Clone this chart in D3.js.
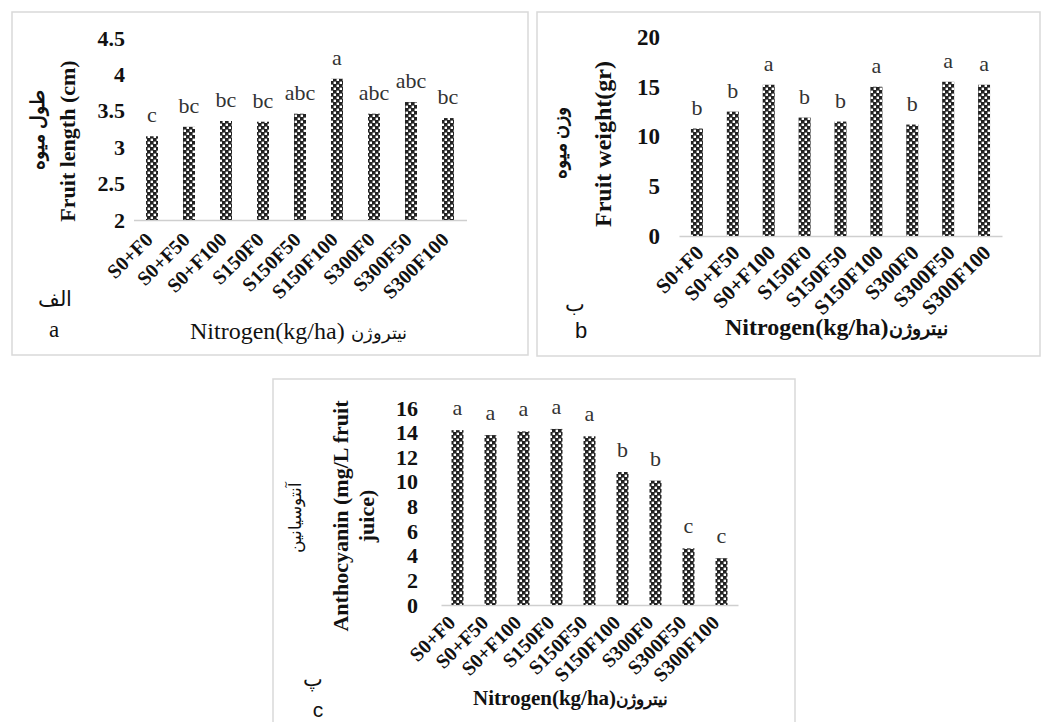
<!DOCTYPE html>
<html><head><meta charset="utf-8">
<script src="https://cdn.jsdelivr.net/npm/d3@7"></script>
<style>body{margin:0;background:#fff}</style>
</head><body><svg id="c" width="1043" height="722"></svg>
<script>
const categories = ["S0+F0","S0+F50","S0+F100","S150F0","S150F50","S150F100","S300F0","S300F50","S300F100"];
const lengthValues = [3.15,3.28,3.36,3.35,3.46,3.94,3.46,3.62,3.40];
const lengthLetters = ["c","bc","bc","bc","abc","a","abc","abc","bc"];
const lengthTicks = [2,2.5,3,3.5,4,4.5];
const weightValues = [10.8,12.5,15.2,11.9,11.5,15.0,11.2,15.5,15.2];
const weightLetters = ["b","b","a","b","b","a","b","a","a"];
const weightTicks = [0,5,10,15,20];
const anthoValues = [14.2,13.8,14.1,14.3,13.7,10.8,10.1,4.6,3.8];
const anthoLetters = ["a","a","a","a","a","b","b","c","c"];
const anthoTicks = [0,2,4,6,8,10,12,14,16];

const SERIF = "'Liberation Serif','Times New Roman','DejaVu Serif',serif";
const SANS = "'Liberation Sans',Arial,sans-serif";
const svg = d3.select("#c");

const defs = svg.append("defs");
const pat = defs.append("pattern").attr("id","chk").attr("patternUnits","userSpaceOnUse")
  .attr("width",6).attr("height",6);
pat.append("rect").attr("width",6).attr("height",6).attr("fill","#222");
pat.append("rect").attr("x",0.6).attr("y",0.6).attr("width",2.4).attr("height",2.4).attr("fill","#fff");
pat.append("rect").attr("x",3.6).attr("y",3.6).attr("width",2.4).attr("height",2.4).attr("fill","#fff");

function panel(cfg){
  const g = svg.append("g");
  g.append("rect").attr("x",cfg.frame[0]).attr("y",cfg.frame[1])
    .attr("width",cfg.frame[2]-cfg.frame[0]).attr("height",cfg.frame[3]-cfg.frame[1])
    .attr("fill","#fff").attr("stroke","#d9d9d9").attr("stroke-width",1.5);
  const x = d3.scaleBand().domain(categories).range(cfg.xr).padding(0);
  const y = d3.scaleLinear().domain(cfg.yd).range(cfg.yr);
  const ya = g.append("g").attr("transform",`translate(${cfg.tickX},0)`)
    .call(d3.axisLeft(y).tickValues(cfg.ticks).tickSize(0).tickPadding(0).tickFormat(d3.format("")));
  ya.select(".domain").remove();
  ya.selectAll("text").attr("font-family",SERIF).attr("font-size",cfg.tickFs)
    .attr("font-weight","bold").attr("fill","#111");
  const xa = g.append("g").attr("transform",`translate(0,${cfg.yr[0]})`)
    .call(d3.axisBottom(x).tickSize(0).tickFormat(""));
  xa.select(".domain").attr("stroke","#cfcfcf").attr("stroke-width",1.5);
  const bw = 12;
  g.selectAll("rect.bar").data(cfg.values).join("rect").attr("class","bar")
    .attr("x",(d,i)=>x(categories[i])+x.bandwidth()/2-bw/2)
    .attr("width",bw)
    .attr("y",d=>y(d)).attr("height",d=>y(cfg.yd[0])-y(d))
    .attr("fill","url(#chk)");
  g.selectAll("text.lt").data(cfg.letters).join("text").attr("class","lt")
    .attr("x",(d,i)=>x(categories[i])+x.bandwidth()/2)
    .attr("y",(d,i)=>y(cfg.values[i])-cfg.letterGap)
    .attr("text-anchor","middle").attr("font-family",SERIF).attr("font-size",cfg.letterFs)
    .attr("fill","#333").text(d=>d);
  g.selectAll("text.xl").data(categories).join("text").attr("class","xl")
    .attr("transform",d=>`translate(${x(d)+x.bandwidth()/2+cfg.lblDx},${cfg.yr[0]+cfg.lblDy}) rotate(-45)`)
    .attr("text-anchor","end").attr("font-family",SERIF).attr("font-weight","bold")
    .attr("font-size",cfg.lblFs).attr("fill","#111").text(d=>d);
  cfg.ytitles.forEach(t=>{
    g.append("text").attr("transform",`translate(${t.x},${t.y}) rotate(-90)`)
      .attr("text-anchor","middle").attr("font-family",SERIF)
      .attr("font-weight",t.bold?"bold":"normal").attr("font-size",t.fs).attr("fill","#111").text(t.text);
  });
  cfg.texts.forEach(t=>{
    g.append("text").attr("x",t.x).attr("y",t.y).attr("text-anchor",t.anchor||"middle")
      .attr("font-family",t.font||SERIF).attr("font-weight",t.bold?"bold":"normal")
      .attr("font-size",t.fs).attr("fill","#111").text(t.text);
  });
  const xt = g.append("text").attr("x",cfg.xtitle.x).attr("y",cfg.xtitle.y)
    .attr("font-family",SERIF).attr("font-weight",cfg.xtitle.bold?"bold":"normal").attr("fill","#111");
  xt.append("tspan").attr("font-size",cfg.xtitle.fs).text(cfg.xtitle.latin);
  xt.append("tspan").attr("font-size",cfg.xtitle.fs2).text(cfg.xtitle.persian);
}

panel({
  frame:[12,12,528,355], xr:[133.5,466.5], yd:[2,4.5], yr:[220,38], ticks:lengthTicks,
  tickX:125, tickFs:22, values:lengthValues, letters:lengthLetters, letterGap:14, letterFs:22,
  lblDx:2, lblDy:21, lblFs:20,
  ytitles:[{x:75,y:141,text:"Fruit length (cm)",bold:true,fs:22},{x:44,y:130,text:"طول میوه",bold:true,fs:19}],
  texts:[{x:55,y:306,text:"الف",fs:21},{x:54,y:337,text:"a",fs:23}],
  xtitle:{x:190,y:339,latin:"Nitrogen(kg/ha) ",persian:"نیتروژن",fs:24,fs2:18,bold:false}
});
panel({
  frame:[537,12,1040,356], xr:[679,1002], yd:[0,20], yr:[236,37], ticks:weightTicks,
  tickX:660, tickFs:23, values:weightValues, letters:weightLetters, letterGap:14, letterFs:22,
  lblDx:8, lblDy:18, lblFs:21,
  ytitles:[{x:611,y:144,text:"Fruit weight(gr)",bold:true,fs:24},{x:566,y:143,text:"وزن میوه",bold:true,fs:19}],
  texts:[{x:575,y:311,text:"ب",fs:21},{x:581,y:338,text:"b",fs:22,font:SANS}],
  xtitle:{x:725,y:335,latin:"Nitrogen(kg/ha)",persian:"نیتروژن",fs:24,fs2:19,bold:true}
});
panel({
  frame:[273,379,795,730], xr:[441,738], yd:[0,16], yr:[605,408], ticks:anthoTicks,
  tickX:418, tickFs:22, values:anthoValues, letters:anthoLetters, letterGap:15, letterFs:22,
  lblDx:-1, lblDy:19, lblFs:20,
  ytitles:[{x:348,y:516,text:"Anthocyanin (mg/L fruit",bold:true,fs:22},
           {x:374,y:516,text:"juice)",bold:true,fs:22},
           {x:301,y:517,text:"آنتوسیانین",bold:false,fs:17}],
  texts:[{x:313,y:686,text:"پ",fs:21},{x:318,y:717,text:"c",fs:21,font:SANS}],
  xtitle:{x:473,y:705,latin:"Nitrogen(kg/ha)",persian:"نیتروژن",fs:21,fs2:17,bold:true}
});
</script></body></html>
